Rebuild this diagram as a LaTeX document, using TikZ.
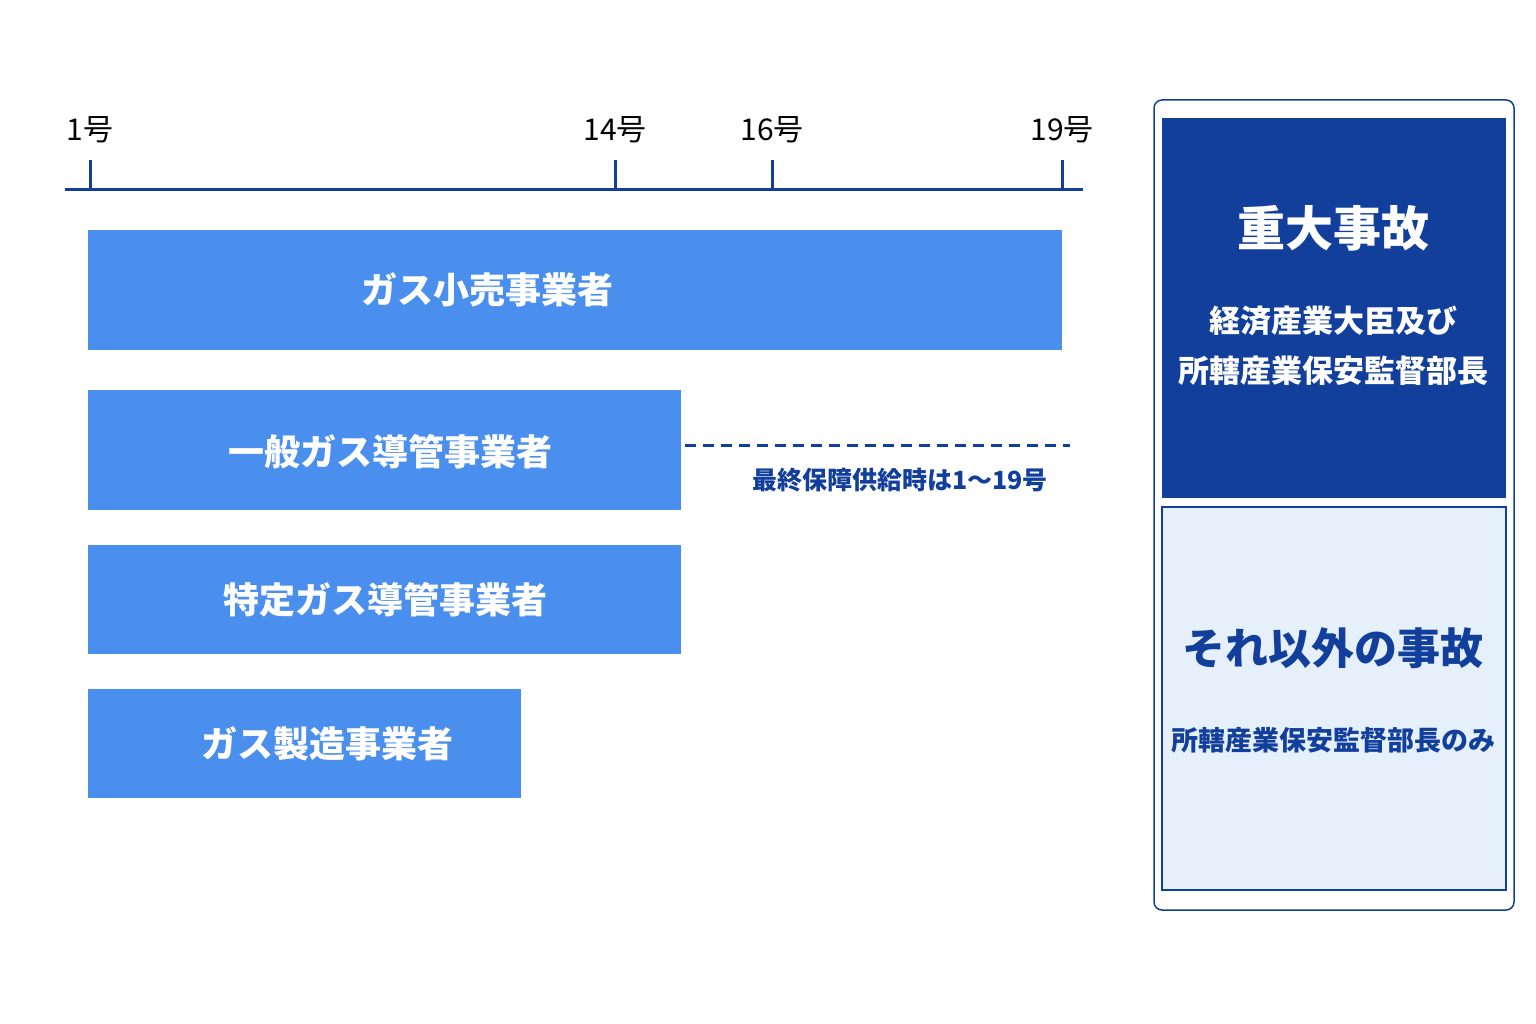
\documentclass[tikz,border=0pt]{standalone}
\usepackage{fontspec}
\newfontfamily\cjk{Noto Sans CJK JP}
\definecolor{navy}{HTML}{123F9C}
\definecolor{bar}{HTML}{4A8FEE}
\definecolor{light}{HTML}{E6F0FB}
\begin{document}
\begin{tikzpicture}[x=1pt,y=-1pt,
  barbox/.style={fill=bar,draw=none},
  bartxt/.style={text=white,font=\cjk\bfseries\fontsize{36}{40}\selectfont},
  tick/.style={draw=navy,line width=3pt},
  num/.style={text=black,font=\cjk\fontsize{30}{34}\selectfont}]
\useasboundingbox[fill=white] (0,0) rectangle (1536,1024);
% axis
\coordinate (a0) at (65,190); \coordinate (a1) at (1083,190);
\draw[tick] (a0) -- (a1);
\foreach \x/\l in {90/1,615/14,772/16,1062/19}{
  \coordinate (t\l) at (\x,190); \coordinate (u\l) at (\x,160);
  \draw[tick] (t\l) -- (u\l);
  \node[num] (n\l) at (\x,130) {\l 号};
}
% bars
\fill[barbox] (88,230) rectangle (1062,350);
\node[bartxt] (b1) at (487,290) {ガス小売事業者};
\fill[barbox] (88,390) rectangle (681,510);
\node[bartxt] (b2) at (390,452) {一般ガス導管事業者};
\fill[barbox] (88,545) rectangle (681,654);
\node[bartxt] (b3) at (385,600) {特定ガス導管事業者};
\fill[barbox] (88,689) rectangle (521,798);
\node[bartxt] (b4) at (327,744) {ガス製造事業者};
\coordinate (d0) at (685,445); \coordinate (d1) at (1070,445);
\draw[navy,line width=3pt,dash pattern=on 11pt off 7pt] (d0) -- (d1);
\node[text=navy,font=\cjk\bfseries\fontsize{25}{28}\selectfont] (fin) at (900,480) {最終保障供給時は1～19号};
% right panel
\draw[navy,line width=1.5pt,rounded corners=8pt,fill=white] (1154,100) rectangle (1514,910);
\fill[navy] (1162,118) rectangle (1506,498);
\node[text=white,font=\cjk\bfseries\fontsize{48}{52}\selectfont] (h1) at (1333,228) {重大事故};
\node[text=white,font=\cjk\bfseries\fontsize{31}{36}\selectfont,align=center] (h2) at (1333,346) {経済産業大臣及び\\[14pt]所轄産業保安監督部長};
\draw[navy,line width=1.5pt,fill=light] (1162,507) rectangle (1506,890);
\node[text=navy,font=\cjk\bfseries\fontsize{43}{48}\selectfont] (o1) at (1333,648) {それ以外の事故};
\node[text=navy,font=\cjk\bfseries\fontsize{27}{30}\selectfont] (o2) at (1333,740) {所轄産業保安監督部長のみ};
\end{tikzpicture}
\end{document}
